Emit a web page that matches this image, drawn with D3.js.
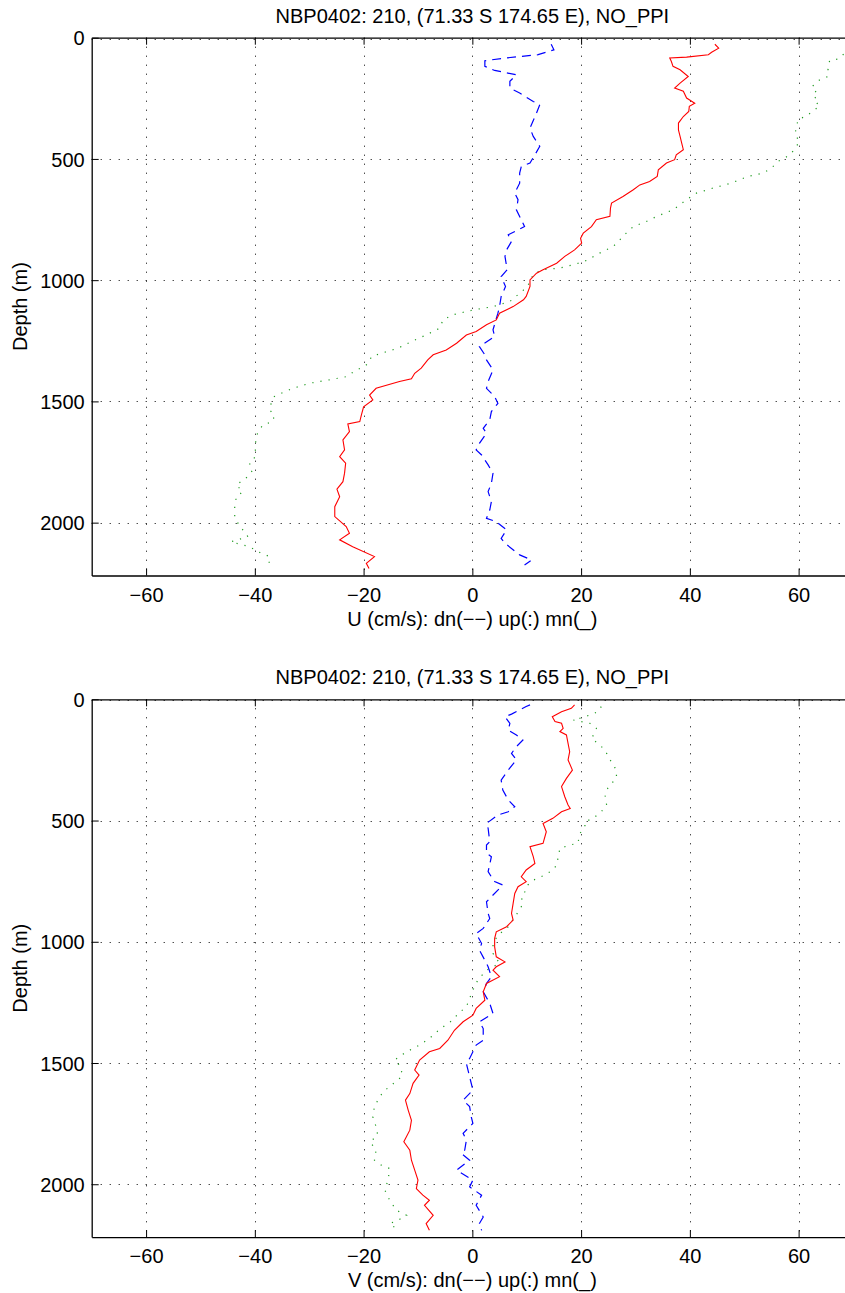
<!DOCTYPE html>
<html>
<head>
<meta charset="utf-8">
<script src="https://cdn.jsdelivr.net/npm/d3@7"></script>
<style>
  body { margin: 0; background: #fff; }
  text { font-family: "Liberation Sans", Arial, Helvetica, sans-serif; fill: #000; }
</style>
</head>
<body>
<svg id="chart" width="845" height="1293"></svg>
<script>
// title and labels
var titleText = "NBP0402: 210, (71.33 S 174.65 E), NO_PPI";
var uLabel = "U (cm/s): dn(\u2212\u2212) up(:) mn(_)";
var vLabel = "V (cm/s): dn(\u2212\u2212) up(:) mn(_)";
var yLabel = "Depth (m)";

var xTicks = [-60, -40, -20, 0, 20, 40, 60];
var yTicks = [0, 500, 1000, 1500, 2000];

// [depth m, velocity cm/s]
var uDown = [[27,14.5],[50,15.0],[70,12.1],[84,6.0],[95,2.3],[118,2.3],[135,4.1],[153,8.1],[180,6.9],[208,6.9],[228,8.7],[263,11.2],[276,12.4],[311,11.8],[373,10.6],[407,11.2],[448,12.4],[483,11.5],[517,10.6],[531,9.0],[558,8.7],[600,8.7],[641,7.8],[668,8.4],[710,8.1],[751,9.0],[779,9.6],[813,6.6],[840,7.2],[875,6.3],[902,6.0],[957,6.4],[985,5.3],[1026,6.1],[1067,5.3],[1109,5.0],[1136,4.7],[1205,3.8],[1232,4.1],[1274,1.3],[1308,2.3],[1329,2.6],[1370,3.8],[1418,2.9],[1446,2.6],[1480,4.1],[1508,4.7],[1542,3.5],[1576,3.2],[1611,2.0],[1631,2.6],[1673,1.3],[1700,0.7],[1721,1.7],[1762,2.9],[1796,3.8],[1838,3.5],[1872,2.9],[1913,3.5],[1948,3.2],[1982,2.6],[1996,4.4],[2030,6.3],[2065,5.3],[2085,6.0],[2133,8.7],[2154,10.9],[2175,9.6]];

var uUp = [[40,71.0],[63,68.5],[88,67.3],[94,65.7],[132,65.4],[160,65.4],[173,63.9],[203,62.4],[235,63.6],[256,62.7],[281,63.9],[322,61.5],[338,59.9],[400,59.3],[428,60.2],[476,58.7],[496,57.5],[510,56.2],[538,55.0],[558,53.5],[572,50.7],[599,47.7],[620,44.3],[641,41.2],[668,39.4],[710,36.9],[737,33.9],[758,32.0],[779,29.6],[806,28.3],[834,27.1],[861,25.9],[895,22.8],[916,21.3],[933,19.1],[950,16.1],[957,13.0],[971,11.5],[999,10.6],[1026,10.2],[1054,8.7],[1088,6.9],[1109,3.8],[1123,0.1],[1143,-3.6],[1164,-5.4],[1198,-6.0],[1226,-8.5],[1253,-11.2],[1281,-13.7],[1295,-15.8],[1315,-18.6],[1336,-18.9],[1356,-19.8],[1370,-21.3],[1398,-23.2],[1411,-26.3],[1425,-29.9],[1446,-33.0],[1467,-35.2],[1480,-36.4],[1508,-37.0],[1535,-37.3],[1556,-36.4],[1583,-36.7],[1597,-38.5],[1625,-39.4],[1652,-39.8],[1686,-39.9],[1728,-39.9],[1755,-41.0],[1783,-40.4],[1810,-41.3],[1845,-43.4],[1872,-42.2],[1893,-43.4],[1934,-43.7],[1975,-43.7],[2016,-42.8],[2044,-41.6],[2058,-41.3],[2079,-44.4],[2099,-41.0],[2120,-39.4],[2140,-37.3],[2161,-37.3],[2182,-37.9]];

var uMean = [[27,44.6],[43,45.3],[60,44.0],[70,43.4],[80,39.4],[84,36.3],[98,36.6],[118,36.9],[132,38.2],[160,39.7],[187,38.2],[208,37.2],[221,38.8],[249,39.4],[270,40.9],[283,39.9],[304,39.8],[325,38.8],[352,37.9],[380,37.9],[407,38.2],[435,38.5],[462,38.8],[483,37.5],[503,37.2],[517,35.7],[545,34.2],[572,34.0],[593,32.6],[607,30.8],[627,29.6],[655,27.7],[682,25.6],[703,25.4],[737,25.3],[751,22.8],[779,21.9],[806,20.4],[827,19.9],[847,20.1],[875,18.8],[902,17.0],[930,15.5],[957,13.0],[971,11.8],[999,10.6],[1026,10.6],[1067,9.9],[1081,9.4],[1109,7.5],[1136,5.0],[1164,4.4],[1184,2.6],[1212,0.7],[1226,-1.1],[1260,-2.9],[1288,-4.8],[1308,-7.2],[1329,-8.2],[1363,-9.4],[1384,-10.6],[1407,-11.2],[1418,-13.4],[1446,-17.7],[1474,-18.9],[1494,-18.3],[1522,-20.0],[1556,-20.4],[1583,-20.7],[1593,-22.9],[1625,-22.6],[1659,-23.8],[1700,-23.5],[1728,-24.4],[1755,-23.3],[1796,-23.5],[1831,-23.8],[1862,-24.9],[1893,-24.4],[1934,-25.3],[1975,-25.3],[2016,-23.2],[2044,-22.6],[2071,-24.4],[2099,-22.0],[2140,-18.0],[2168,-19.5],[2189,-19.0]];

var vDown = [[23,10.6],[30,9.9],[61,7.2],[72,6.0],[99,6.9],[127,6.6],[147,8.1],[168,9.3],[195,8.1],[223,7.2],[250,8.1],[292,6.6],[333,5.3],[374,5.6],[415,6.6],[443,7.8],[464,6.6],[477,4.7],[512,2.6],[532,2.9],[587,3.2],[601,2.6],[635,2.6],[649,3.5],[711,2.9],[732,3.5],[752,4.1],[766,5.6],[814,3.5],[835,2.6],[883,2.9],[904,3.2],[945,2.0],[966,0.7],[1007,1.7],[1034,1.3],[1089,2.6],[1103,2.9],[1144,3.5],[1172,2.6],[1206,2.0],[1254,3.2],[1296,3.8],[1330,1.3],[1358,2.0],[1406,2.0],[1426,0.7],[1481,-0.5],[1502,-1.1],[1557,-0.5],[1612,0.1],[1653,-1.7],[1680,-0.5],[1722,-0.2],[1749,0.1],[1790,-1.7],[1818,-1.1],[1859,-1.4],[1873,-2.0],[1901,-0.5],[1942,-2.9],[1983,0.1],[2011,-0.5],[2045,1.7],[2087,0.7],[2135,2.0],[2162,1.3],[2190,1.7]];

var vUp = [[30,23.7],[51,23.1],[65,21.6],[78,19.8],[85,18.5],[99,21.6],[120,22.8],[140,22.5],[161,21.9],[182,23.1],[209,24.4],[237,25.0],[271,25.9],[292,26.5],[326,26.5],[354,25.3],[374,24.7],[402,24.4],[436,24.7],[464,23.7],[491,22.2],[505,20.7],[525,20.7],[553,19.8],[594,19.4],[601,17.9],[615,16.1],[649,15.8],[684,15.5],[704,14.8],[725,13.3],[746,11.2],[766,10.2],[787,9.9],[814,9.0],[842,9.3],[869,8.7],[897,7.8],[938,6.6],[973,4.7],[1007,3.8],[1048,3.8],[1089,5.0],[1117,2.6],[1158,1.0],[1199,0.1],[1234,-0.5],[1268,-1.1],[1296,-2.6],[1323,-3.6],[1351,-5.4],[1378,-6.9],[1399,-7.9],[1426,-9.7],[1447,-11.5],[1468,-13.1],[1488,-14.3],[1509,-13.4],[1550,-12.8],[1571,-13.7],[1591,-14.9],[1619,-16.4],[1646,-17.2],[1680,-18.0],[1722,-18.3],[1763,-17.7],[1798,-17.4],[1825,-18.8],[1860,-17.7],[1901,-18.0],[1922,-16.7],[1935,-15.2],[1983,-15.5],[2024,-16.1],[2066,-15.2],[2107,-14.0],[2128,-12.1],[2149,-13.7],[2162,-15.2],[2183,-14.0]];

var vMean = [[23,18.8],[37,18.2],[51,16.4],[72,14.7],[92,15.2],[99,16.4],[120,16.7],[133,16.1],[147,17.3],[182,17.6],[216,17.9],[250,17.6],[292,18.4],[326,17.3],[360,16.4],[402,17.0],[436,17.6],[450,18.0],[464,16.4],[491,14.8],[512,13.0],[546,13.6],[594,13.0],[608,10.6],[649,11.2],[677,11.5],[704,9.9],[732,9.0],[752,9.9],[773,8.4],[801,7.8],[842,7.5],[883,7.2],[911,7.5],[938,6.3],[959,4.4],[986,4.1],[1021,4.1],[1062,4.4],[1083,6.0],[1103,4.4],[1117,3.8],[1144,5.0],[1172,2.6],[1206,2.0],[1241,2.3],[1275,0.7],[1303,0.1],[1330,-1.7],[1365,-3.3],[1406,-4.5],[1440,-6.0],[1454,-7.9],[1488,-9.7],[1529,-10.6],[1550,-9.8],[1584,-10.9],[1626,-11.5],[1653,-12.3],[1694,-11.8],[1736,-11.2],[1777,-11.5],[1825,-12.6],[1860,-11.5],[1901,-11.2],[1942,-10.6],[1983,-10.0],[2018,-10.3],[2045,-9.1],[2066,-7.9],[2087,-8.8],[2128,-7.2],[2162,-8.5],[2190,-7.9]];

var svg = d3.select("#chart");
svg.append("rect").attr("width", 845).attr("height", 1293).attr("fill", "#fff");

var left = 91.7, right = 853, plotH = 537.8;
var maxDepth = 2218;

function drawPanel(top, label, down, up, mean, idx) {
  var xScale = d3.scaleLinear().domain([-70, 70]).range([left, right]);
  var yScale = d3.scaleLinear().domain([0, maxDepth]).range([top, top + plotH]);
  var bottom = top + plotH;

  var g = svg.append("g");

  svg.append("clipPath").attr("id", "clip" + idx)
    .append("rect")
    .attr("x", left).attr("y", top)
    .attr("width", right - left).attr("height", plotH);

  // grid
  var grid = g.append("g")
    .attr("stroke", "#000")
    .attr("stroke-width", 1)
    .attr("stroke-dasharray", "1,8");
  grid.selectAll(".vg").data(xTicks).enter().append("line")
    .attr("x1", d => Math.round(xScale(d)) + 0.5).attr("x2", d => Math.round(xScale(d)) + 0.5)
    .attr("y1", top).attr("y2", bottom);
  grid.selectAll(".hg").data(yTicks).enter().append("line")
    .attr("x1", left).attr("x2", right)
    .attr("y1", d => Math.round(yScale(d)) + (d === 0 ? 1.5 : 0.5))
    .attr("y2", d => Math.round(yScale(d)) + (d === 0 ? 1.5 : 0.5));

  // profiles
  var line = d3.line().x(d => xScale(d[1])).y(d => yScale(d[0]));
  var lines = g.append("g").attr("clip-path", "url(#clip" + idx + ")").attr("fill", "none");
  lines.append("path").datum(up).attr("d", line)
    .attr("stroke", "#1f9a1f").attr("stroke-width", 1.2).attr("stroke-dasharray", "1.2,7");
  lines.append("path").datum(down).attr("d", line)
    .attr("stroke", "#0000ff").attr("stroke-width", 1.2).attr("stroke-dasharray", "9,6");
  lines.append("path").datum(mean).attr("d", line)
    .attr("stroke", "#ff0000").attr("stroke-width", 1.1);

  // axes, ticks pointing inward
  var xAxis = d3.axisBottom(xScale).tickValues(xTicks).tickSizeInner(-7).tickSizeOuter(0).tickPadding(12);
  var gx = g.append("g").attr("transform", "translate(0," + bottom + ")").call(xAxis);
  var xTop = d3.axisTop(xScale).tickValues(xTicks).tickSizeInner(-7).tickSizeOuter(0).tickFormat("");
  var gxt = g.append("g").attr("transform", "translate(0," + top + ")").call(xTop);
  var yAxis = d3.axisLeft(yScale).tickValues(yTicks).tickSizeInner(-7).tickSizeOuter(0).tickPadding(7)
    .tickFormat(d3.format("d"));
  var gy = g.append("g").attr("transform", "translate(" + left + ",0)").call(yAxis);
  var yRight = d3.axisRight(yScale).tickValues(yTicks).tickSizeInner(-7).tickSizeOuter(0).tickFormat("");
  var gyr = g.append("g").attr("transform", "translate(" + right + ",0)").call(yRight);

  [gx, gxt, gy, gyr].forEach(function (a) {
    a.select(".domain").attr("stroke", "#000").attr("stroke-width", 1.3);
    a.selectAll(".tick line").attr("stroke", "#000").attr("stroke-width", 1);
    a.selectAll(".tick text").attr("font-size", 20).attr("font-family", null);
  });
  gy.selectAll(".tick text").attr("dy", "0.36em");

  // labels
  g.append("text")
    .attr("x", (left + right) / 2).attr("y", top - 15)
    .attr("text-anchor", "middle").attr("font-size", 20)
    .text(titleText);
  g.append("text")
    .attr("x", (left + right) / 2).attr("y", bottom + 50)
    .attr("text-anchor", "middle").attr("font-size", 20)
    .text(label);
  g.append("text")
    .attr("transform", "translate(27," + (top + plotH / 2) + ") rotate(-90)")
    .attr("text-anchor", "middle").attr("font-size", 20)
    .text(yLabel);
}

drawPanel(37.7, uLabel, uDown, uUp, uMean, 0);
drawPanel(699.3, vLabel, vDown, vUp, vMean, 1);
</script>
</body>
</html>
